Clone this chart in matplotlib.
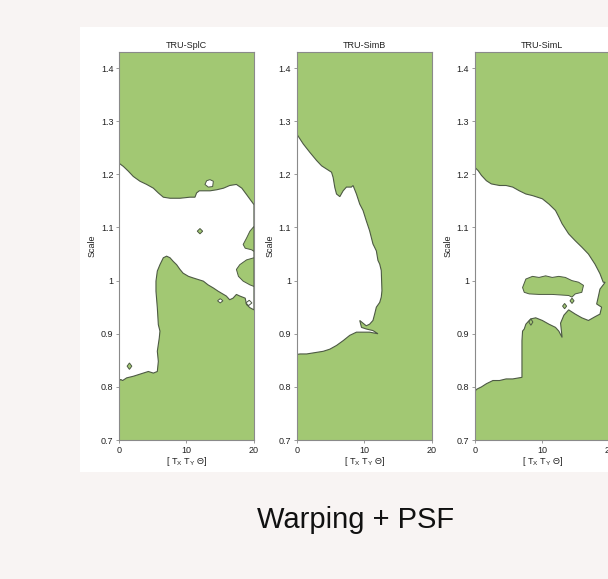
import numpy as np
import matplotlib.pyplot as plt
from matplotlib.patches import Rectangle

plt.rcParams['font.family'] = ['Liberation Sans', 'DejaVu Sans']
plt.rcParams['mathtext.fontset'] = 'custom'
plt.rcParams['mathtext.rm'] = 'Liberation Sans'

# panel titles
titles = ['TRU-SplC', 'TRU-SimB', 'TRU-SimL']

# axis ticks
y_ticks = [0.7, 0.8, 0.9, 1.0, 1.1, 1.2, 1.3, 1.4]
y_labels = ['0.7', '0.8', '0.9', '1', '1.1', '1.2', '1.3', '1.4']
x_ticks = [0, 10, 20]

# --- TRU-SplC: white (converged) region, outline clockwise from upper-left
splc_upper_x = [0, 0.64, 1.38, 2.12, 3.11, 4.1, 5.09, 5.83, 6.57, 7.56, 9.04, 10.52, 11.26, 11.5,
                11.9, 12.5, 13.5, 14.5, 15.5, 16.4, 17.4, 18.2, 18.9, 19.65, 20]
splc_upper_y = [1.221, 1.215, 1.206, 1.196, 1.187, 1.181, 1.174, 1.165, 1.157, 1.155, 1.155, 1.157,
                1.157, 1.165, 1.169, 1.169, 1.169, 1.171, 1.174, 1.179, 1.181, 1.174, 1.162, 1.149, 1.143]
splc_lower_x = [20, 19.4, 18.9, 18.7, 17.9, 17.4, 16.9, 16.4, 15.9, 15.5, 14.7, 14.0, 13.2, 12.5,
                11.75, 11.0, 10.3, 9.5, 9.04, 8.54, 8.05, 7.56, 7.06, 6.57, 6.07, 5.68, 5.48, 5.48,
                5.68, 5.83, 6.07, 5.97, 5.83, 5.68, 5.83, 5.68, 5.09, 4.35, 3.6, 2.86, 2.12, 1.14,
                0.54, 0.25, 0]
splc_lower_y = [0.945, 0.949, 0.955, 0.967, 0.971, 0.974, 0.967, 0.964, 0.971, 0.974, 0.98, 0.986,
                0.992, 0.999, 1.002, 1.005, 1.008, 1.014, 1.021, 1.03, 1.036, 1.043, 1.046, 1.043,
                1.03, 1.018, 0.999, 0.98, 0.949, 0.917, 0.905, 0.892, 0.88, 0.867, 0.848, 0.829,
                0.826, 0.829, 0.826, 0.823, 0.82, 0.817, 0.812, 0.814, 0.811]
# green islands inside the white region
splc_islands = [
    ([20, 19.4, 18.9, 18.4, 18.7, 19.65, 20], [1.102, 1.093, 1.08, 1.068, 1.061, 1.058, 1.055]),
    ([20, 18.9, 17.9, 17.4, 17.7, 18.4, 19.4, 20], [1.043, 1.039, 1.03, 1.021, 1.008, 0.999, 0.992, 0.989]),
    ([11.6, 12.0, 12.4, 12.0], [1.093, 1.098, 1.093, 1.088]),
    ([1.2, 1.55, 1.9, 1.55], [0.839, 0.845, 0.839, 0.833]),
]
# white holes inside the green region
splc_holes = [
    ([12.74, 12.99, 13.48, 13.98, 13.88, 13.23], [1.181, 1.188, 1.19, 1.187, 1.177, 1.176]),
    ([14.6, 15.0, 15.4, 15.0], [0.962, 0.966, 0.962, 0.958]),
    ([18.8, 19.3, 19.7, 19.2], [0.958, 0.963, 0.958, 0.953]),
]

# --- TRU-SimB
simb_x = [0, 0.98, 1.97, 2.95, 3.69, 4.42, 5.16, 5.4, 5.65, 5.9, 6.39, 6.88, 7.37, 8.1, 8.35, 8.85,
          9.34, 9.83, 10.3, 10.8, 11.3, 11.8, 12.04, 12.3, 12.53, 12.63, 12.53, 12.3, 11.8, 11.55,
          11.3, 10.8, 10.3, 9.34, 9.6, 10.3, 11.3, 12.04, 10.8, 8.85, 7.86, 6.88, 5.9, 4.91, 3.93,
          2.46, 1.47, 0.49, 0]
simb_y = [1.276, 1.257, 1.241, 1.226, 1.216, 1.21, 1.204, 1.194, 1.175, 1.163, 1.158, 1.169, 1.176,
          1.176, 1.179, 1.163, 1.144, 1.132, 1.113, 1.094, 1.069, 1.056, 1.038, 1.031, 1.019, 0.981,
          0.969, 0.959, 0.95, 0.937, 0.925, 0.918, 0.915, 0.925, 0.912, 0.909, 0.906, 0.9, 0.903,
          0.903, 0.897, 0.887, 0.878, 0.871, 0.867, 0.864, 0.862, 0.862, 0.861]

# --- TRU-SimL
siml_x = [0, 0.49, 0.98, 1.71, 2.44, 3.66, 4.63, 5.61, 6.59, 7.56, 8.54, 10.0, 10.98, 11.95, 12.44,
          12.93, 13.9, 14.88, 15.85, 16.83, 17.8, 18.54, 19.02, 19.3,
          19.2, 18.54, 18.3, 18.05, 18.78, 18.54, 17.8, 16.83, 15.85, 14.88, 13.9, 13.2, 12.7,
          12.93, 12.44, 11.95, 10.98, 10.0, 9.02, 8.3, 8.05, 7.56, 7.32, 7.07, 6.98, 6.98, 6.98,
          5.61, 4.63, 3.66, 2.68, 1.71, 0.98, 0.49, 0.2, 0]
siml_y = [1.213, 1.207, 1.198, 1.188, 1.182, 1.179, 1.179, 1.176, 1.169, 1.163, 1.16, 1.154, 1.144,
          1.132, 1.12, 1.107, 1.088, 1.075, 1.063, 1.05, 1.031, 1.013, 0.997, 0.997,
          0.995, 0.984, 0.97, 0.956, 0.95, 0.937, 0.932, 0.925, 0.93, 0.937, 0.945, 0.935, 0.92,
          0.893, 0.905, 0.912, 0.918, 0.925, 0.93, 0.928, 0.925, 0.918, 0.909, 0.905, 0.887, 0.85,
          0.818, 0.815, 0.815, 0.812, 0.812, 0.806, 0.8, 0.797, 0.795, 0.79]
siml_islands = [
    ([7.07, 7.56, 8.54, 9.51, 10.49, 11.46, 12.44, 13.41, 14.39, 15.37, 16.1, 15.85, 14.88, 14.39,
      13.9, 11.46, 9.51, 8.05, 7.32],
     [0.987, 1.003, 1.008, 1.006, 1.009, 1.006, 1.008, 1.006, 1.0, 0.997, 0.991, 0.978, 0.975,
      0.969, 0.972, 0.974, 0.974, 0.975, 0.978]),
    ([13.0, 13.3, 13.6, 13.3], [0.952, 0.957, 0.952, 0.947]),
    ([14.1, 14.4, 14.7, 14.4], [0.962, 0.967, 0.962, 0.957]),
    ([8.0, 8.3, 8.6, 8.3], [0.922, 0.928, 0.922, 0.916]),
]

green = '#a2c873'
edge = '#4d5a44'
spine = '#8a8a8a'

fig = plt.figure(figsize=(6.08, 5.79), dpi=100, facecolor='#f8f4f3')
fig.add_artist(Rectangle((0.1316, 0.1848), 0.8684, 0.7686, transform=fig.transFigure,
                         facecolor='white', edgecolor='none', zorder=-5))

panels = [
    (np.r_[splc_upper_x, splc_lower_x], np.r_[splc_upper_y, splc_lower_y], splc_islands, splc_holes),
    (np.array(simb_x), np.array(simb_y), [], []),
    (np.array(siml_x), np.array(siml_y), siml_islands, []),
]
lefts = [0.1957, 0.488, 0.781]

for i, (wx, wy, islands, holes) in enumerate(panels):
    ax = fig.add_axes([lefts[i], 0.240, 0.222, 0.670])
    ax.set_facecolor(green)
    ax.fill(wx, wy, facecolor='white', edgecolor=edge, linewidth=0.8)
    for hx, hy in holes:
        ax.fill(hx, hy, facecolor='white', edgecolor=edge, linewidth=0.7)
    for gx, gy in islands:
        ax.fill(gx, gy, facecolor=green, edgecolor=edge, linewidth=0.7)
    ax.set_xlim(0, 20)
    ax.set_ylim(0.7, 1.43)
    ax.set_xticks(x_ticks)
    ax.set_yticks(y_ticks)
    ax.set_yticklabels(y_labels)
    ax.tick_params(labelsize=6.5, length=2, width=0.6, color=spine, pad=2, labelcolor='#222222')
    for s in ax.spines.values():
        s.set_color(spine)
        s.set_linewidth(0.8)
    ax.set_title(titles[i], fontsize=6.5, pad=3, color='#222222')
    ax.set_ylabel('Scale', fontsize=6.5, labelpad=3, color='#222222')
    ax.set_xlabel(r'[ T$_\mathrm{X}$ T$_\mathrm{Y}$ Θ]', fontsize=6.5, labelpad=0, color='#222222')

fig.text(0.585, 0.102, 'Warping + PSF', fontsize=21, ha='center', va='center', color='#111111')

fig.savefig('out.png', dpi=100, facecolor=fig.get_facecolor())
